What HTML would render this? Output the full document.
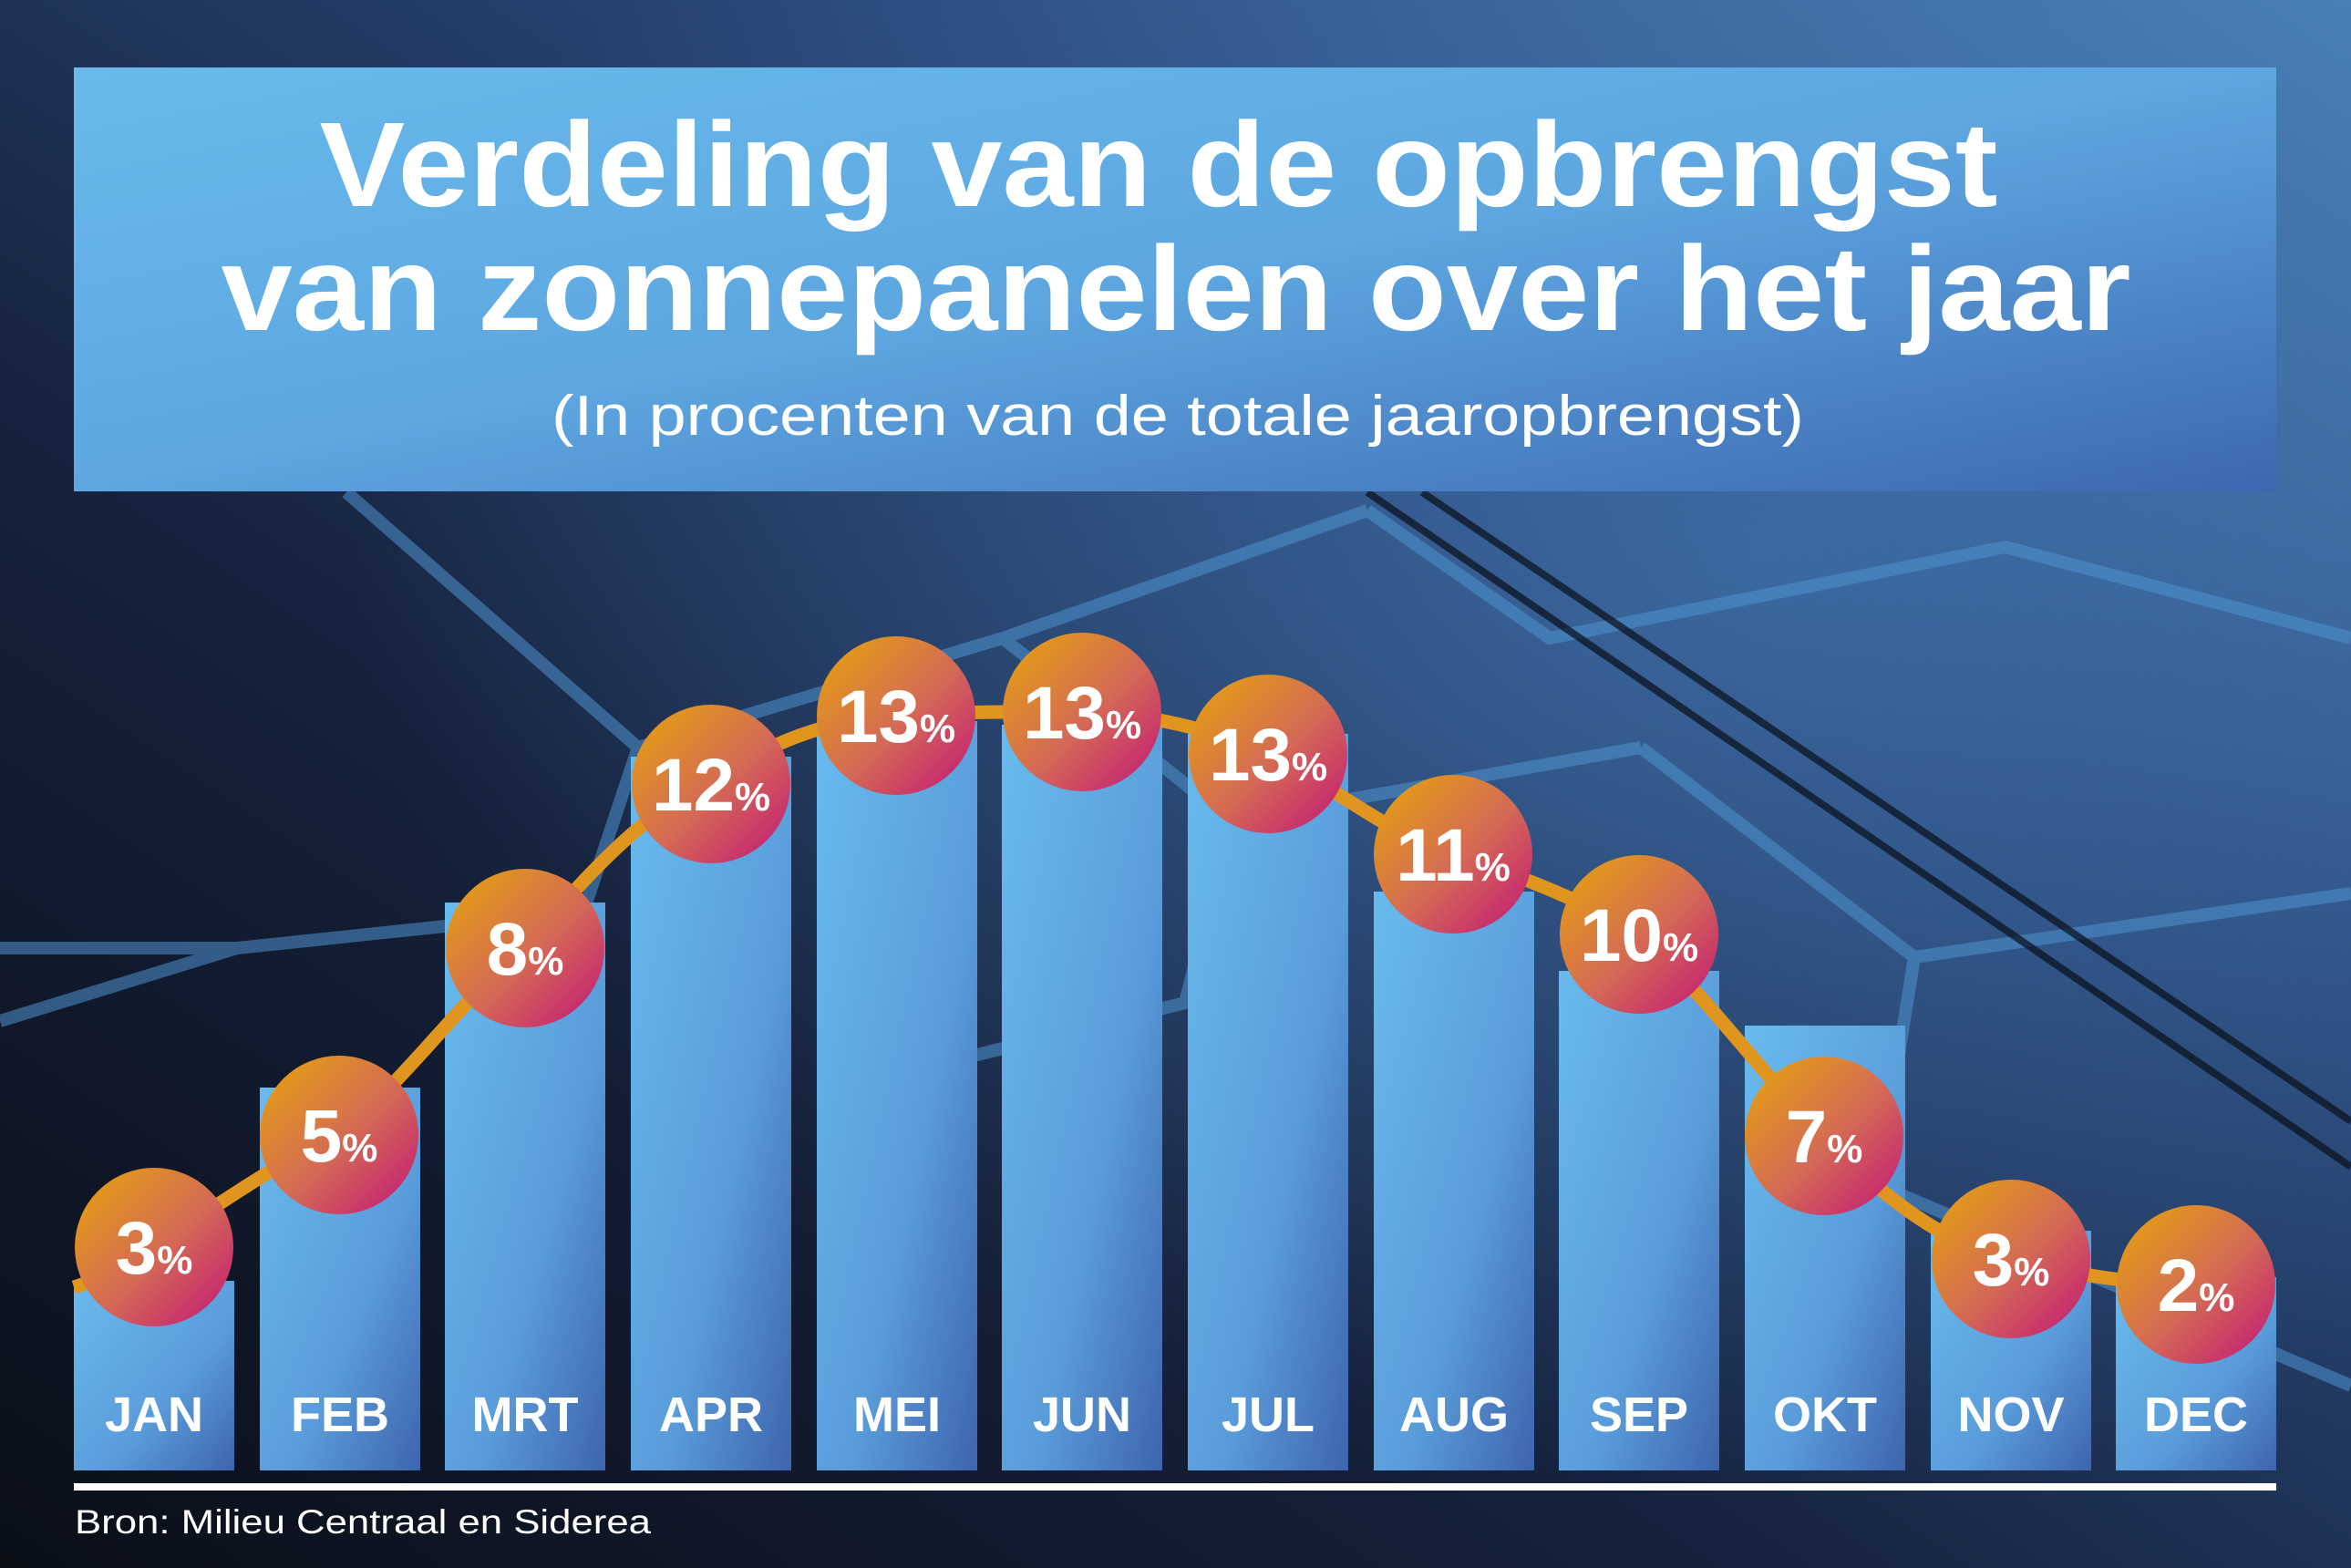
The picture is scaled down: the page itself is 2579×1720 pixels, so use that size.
<!DOCTYPE html>
<html><head><meta charset="utf-8"><style>html,body{margin:0;padding:0;background:#111a2b}svg{display:block}</style></head>
<body>
<svg width="2579" height="1720" viewBox="0 0 2579 1720" xmlns="http://www.w3.org/2000/svg" font-family="'Liberation Sans', sans-serif">
<defs>
<linearGradient id="bg" x1="0" y1="1" x2="1" y2="0">
<stop offset="0" stop-color="#0a0f18"/><stop offset="0.35" stop-color="#15203a"/><stop offset="0.7" stop-color="#2a4a7c"/><stop offset="1" stop-color="#4a7fb5"/>
</linearGradient>
<radialGradient id="glow" cx="0.75" cy="0.35" r="0.6"><stop offset="0" stop-color="#4a82c0" stop-opacity="0.55"/><stop offset="1" stop-color="#4a82c0" stop-opacity="0"/></radialGradient>
<linearGradient id="box" x1="0" y1="0" x2="1" y2="1"><stop offset="0" stop-color="#68baec"/><stop offset="0.5" stop-color="#5da6e0"/><stop offset="1" stop-color="#3d67b0"/></linearGradient>
<linearGradient id="bar" x1="0" y1="0" x2="1" y2="1"><stop offset="0" stop-color="#68bbee"/><stop offset="0.6" stop-color="#5a9cda"/><stop offset="1" stop-color="#3e64ad"/></linearGradient>
<linearGradient id="circ" x1="0.15" y1="0.15" x2="0.85" y2="0.85"><stop offset="0" stop-color="#e1951f"/><stop offset="0.55" stop-color="#d46a55"/><stop offset="1" stop-color="#c8306c"/></linearGradient>
</defs>
<rect width="2579" height="1720" fill="url(#bg)"/>
<rect width="2579" height="1720" fill="url(#glow)"/>
<g stroke="#4f94d0" stroke-width="14" fill="none" opacity="0.55">
<path d="M380 540 L700 820 L1100 700 L1500 560 M700 820 L640 1000 L260 1040 L0 1120 M1100 700 L1350 900 L1800 820 M1350 900 L1300 1100 L900 1200 M1800 820 L2100 1050 L2579 980 M2100 1050 L2060 1300 L2579 1520 M0 1040 L260 1040 M1500 560 L1700 700 L2200 600 L2579 700"/>
</g>
<g stroke="#0a0f1a" stroke-width="8" opacity="0.7"><path d="M1500 540 L2579 1280"/><path d="M1560 540 L2579 1230"/></g>
<rect x="81" y="74" width="2416" height="465" fill="url(#box)"/>
<g fill="#fff" font-weight="bold" text-anchor="middle">
<text x="1271" y="226" font-size="132" textLength="1841" lengthAdjust="spacingAndGlyphs">Verdeling van de opbrengst</text>
<text x="1290" y="362" font-size="132" textLength="2095" lengthAdjust="spacingAndGlyphs">van zonnepanelen over het jaar</text>
</g>
<text x="1292" y="477" font-size="62" fill="#fff" text-anchor="middle" textLength="1374" lengthAdjust="spacingAndGlyphs">(In procenten van de totale jaaropbrengst)</text>
<g fill="url(#bar)">
<rect x="81" y="1405" width="176" height="208"/>
<rect x="285" y="1193" width="176" height="420"/>
<rect x="488" y="990" width="176" height="623"/>
<rect x="692" y="830" width="176" height="783"/>
<rect x="896" y="791" width="176" height="822"/>
<rect x="1099" y="795" width="176" height="818"/>
<rect x="1303" y="805" width="176" height="808"/>
<rect x="1507" y="978" width="176" height="635"/>
<rect x="1710" y="1065" width="176" height="548"/>
<rect x="1914" y="1125" width="176" height="488"/>
<rect x="2118" y="1350" width="176" height="263"/>
<rect x="2321" y="1401" width="176" height="212"/>
</g>
<path d="M81 1412 C120 1400 140 1385 169 1368 C240 1320 330 1260 372 1245 C450 1180 520 1080 576 1040 C650 950 720 880 780 860 C860 800 930 790 983 785 C1050 780 1130 781 1187 781 C1260 783 1330 800 1391 827 C1460 860 1530 920 1594 937 C1680 965 1740 990 1798 1025 C1880 1100 1950 1200 2001 1246 C2080 1330 2150 1370 2206 1381 C2280 1400 2350 1409 2409 1409" stroke="#e0951e" stroke-width="15" fill="none"/>
<g fill="url(#circ)">
<circle cx="169" cy="1368" r="87"/><circle cx="372" cy="1245" r="87"/><circle cx="576" cy="1040" r="87"/><circle cx="780" cy="860" r="87"/>
<circle cx="983" cy="785" r="87"/><circle cx="1187" cy="781" r="87"/><circle cx="1391" cy="827" r="87"/><circle cx="1594" cy="937" r="87"/>
<circle cx="1798" cy="1025" r="87"/><circle cx="2001" cy="1246" r="87"/><circle cx="2206" cy="1381" r="87"/><circle cx="2409" cy="1409" r="87"/>
</g>
<g fill="#fff" font-weight="bold" text-anchor="middle" font-size="82">
<text x="169" y="1397">3<tspan font-size="44">%</tspan></text>
<text x="372" y="1274">5<tspan font-size="44">%</tspan></text>
<text x="576" y="1069">8<tspan font-size="44">%</tspan></text>
<text x="780" y="889">12<tspan font-size="44">%</tspan></text>
<text x="983" y="814">13<tspan font-size="44">%</tspan></text>
<text x="1187" y="810">13<tspan font-size="44">%</tspan></text>
<text x="1391" y="856">13<tspan font-size="44">%</tspan></text>
<text x="1594" y="966">11<tspan font-size="44">%</tspan></text>
<text x="1798" y="1054">10<tspan font-size="44">%</tspan></text>
<text x="2001" y="1275">7<tspan font-size="44">%</tspan></text>
<text x="2206" y="1410">3<tspan font-size="44">%</tspan></text>
<text x="2409" y="1438">2<tspan font-size="44">%</tspan></text>
</g>
<g fill="#fff" font-weight="bold" text-anchor="middle" font-size="54">
<text x="169" y="1570">JAN</text><text x="373" y="1570">FEB</text><text x="576" y="1570">MRT</text><text x="780" y="1570">APR</text>
<text x="984" y="1570">MEI</text><text x="1187" y="1570">JUN</text><text x="1391" y="1570">JUL</text><text x="1595" y="1570">AUG</text>
<text x="1798" y="1570">SEP</text><text x="2002" y="1570">OKT</text><text x="2206" y="1570">NOV</text><text x="2409" y="1570">DEC</text>
</g>
<rect x="81" y="1627" width="2416" height="8" fill="#fff"/>
<text x="82" y="1682" font-size="37" fill="#fff" textLength="632" lengthAdjust="spacingAndGlyphs">Bron: Milieu Centraal en Siderea</text>
</svg>
</body></html>
